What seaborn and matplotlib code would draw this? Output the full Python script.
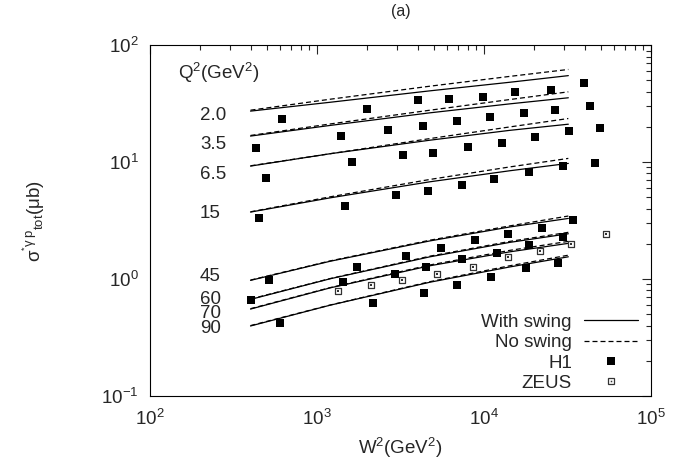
import matplotlib
matplotlib.use("Agg")
import numpy as np
import pandas as pd
import matplotlib.pyplot as plt
from matplotlib.lines import Line2D
import seaborn as sns

# Q^2 bins (GeV^2) labelled on the plot
q2_bins = ["2.0", "3.5", "6.5", "15", "45", "60", "70", "90"]

# model curves, read at these W^2 values (GeV^2)
w2_curve = [400, 1200, 4750, 14300, 32000]
swing_20 = [27.3, 32.5, 40.7, 48.2, 54.9]
swing_35 = [16.7, 20.6, 26.4, 31.5, 35.5]
swing_65 = [9.25, 11.8, 15.4, 18.7, 21.1]
swing_15 = [3.74, 4.95, 6.79, 8.44, 9.75]
swing_45 = [0.975, 1.42, 2.12, 2.79, 3.30]
swing_60 = [0.67, 1.006, 1.55, 2.06, 2.44]
swing_70 = [0.554, 0.841, 1.30, 1.71, 2.02]
swing_90 = [0.397, 0.598, 0.94, 1.27, 1.55]
noswing_20 = [27.8, 34.5, 44.6, 54.1, 62.0]
noswing_35 = [16.9, 21.2, 27.8, 34.3, 39.9]
noswing_65 = [9.3, 11.8, 15.9, 20.0, 23.6]
noswing_15 = [3.76, 5.05, 7.11, 9.10, 10.76]
noswing_45 = [0.98, 1.43, 2.15, 2.85, 3.46]
noswing_60 = [0.675, 1.01, 1.57, 2.10, 2.51]
noswing_70 = [0.558, 0.845, 1.32, 1.76, 2.10]
noswing_90 = [0.40, 0.60, 0.95, 1.30, 1.60]

# H1 data
h1_w2_20 = [620, 2000, 4000, 6200, 9900, 15400, 25100, 39900]
h1_sig_20 = [23.2, 28.2, 33.7, 34.4, 36.0, 39.7, 41.0, 47.1]
h1_w2_35 = [433, 1390, 2670, 4330, 6920, 10900, 17400, 26700, 43300]
h1_sig_35 = [13.1, 16.6, 19.0, 20.2, 22.4, 24.1, 26.1, 27.8, 30.1]
h1_w2_65 = [495, 1630, 3260, 4970, 8050, 12900, 20300, 32400, 49700]
h1_sig_65 = [7.26, 9.94, 11.4, 11.9, 13.6, 14.7, 16.3, 18.4, 19.4]
h1_w2_15 = [449, 1470, 2970, 4620, 7410, 11500, 18600, 29900, 46200]
h1_sig_15 = [3.30, 4.21, 5.22, 5.62, 6.36, 7.11, 8.17, 9.18, 9.75]
h1_w2_45 = [518, 1740, 3425, 5550, 8870, 14000, 22400, 34300]
h1_sig_45 = [0.98, 1.28, 1.59, 1.83, 2.15, 2.43, 2.73, 3.19]
h1_w2_60 = [404, 1440, 2930, 4510, 7410, 11900, 18600, 29900]
h1_sig_60 = [0.658, 0.937, 1.10, 1.26, 1.48, 1.66, 1.95, 2.30]
h1_w2_90 = [603, 2170, 4390, 6860, 11000, 17800, 27900]
h1_sig_90 = [0.421, 0.620, 0.755, 0.889, 1.04, 1.24, 1.36]

# ZEUS data (Q^2 = 70)
zeus_w2 = [1330, 2110, 3240, 5250, 8630, 13900, 21600, 33000, 53500]
zeus_sig = [0.785, 0.884, 0.975, 1.11, 1.28, 1.55, 1.73, 1.99, 2.41]

# label heights in axes fraction
label_y = [0.800, 0.717, 0.632, 0.519, 0.340, 0.276, 0.236, 0.193]

swing_all = [swing_20, swing_35, swing_65, swing_15, swing_45, swing_60, swing_70, swing_90]
noswing_all = [noswing_20, noswing_35, noswing_65, noswing_15, noswing_45, noswing_60, noswing_70, noswing_90]
rows = []
for q, s, n in zip(q2_bins, swing_all, noswing_all):
    for w, v in zip(w2_curve, s):
        rows.append((w, v, q + " swing", "With swing"))
    for w, v in zip(w2_curve, n):
        rows.append((w, v, q + " noswing", "No swing"))
curves = pd.DataFrame(rows, columns=["W2", "sigma", "curve", "model"])

h1 = pd.DataFrame({
    "W2": h1_w2_20 + h1_w2_35 + h1_w2_65 + h1_w2_15 + h1_w2_45 + h1_w2_60 + h1_w2_90,
    "sigma": h1_sig_20 + h1_sig_35 + h1_sig_65 + h1_sig_15 + h1_sig_45 + h1_sig_60 + h1_sig_90,
})
zeus = pd.DataFrame({"W2": zeus_w2, "sigma": zeus_sig})

sns.set_style("white")
plt.rcParams["font.family"] = ["Liberation Sans", "DejaVu Sans"]
plt.rcParams["mathtext.fontset"] = "custom"
plt.rcParams["mathtext.rm"] = "Liberation Sans"
plt.rcParams["mathtext.it"] = "Liberation Sans:italic"
plt.rcParams["mathtext.bf"] = "Liberation Sans:bold"
plt.rcParams["mathtext.sf"] = "Liberation Sans"
plt.rcParams["mathtext.default"] = "regular"

fs = 13.5
fig = plt.figure(figsize=(6.83, 4.61), dpi=100)
ax = fig.add_axes([0.2196, 0.141, 0.7335, 0.761])
ax.set_xscale("log")
ax.set_yscale("log")

sns.lineplot(data=curves, x="W2", y="sigma", units="curve", style="model",
             estimator=None, dashes={"With swing": "", "No swing": (4, 2.4)},
             color="black", lw=0.9, legend=False, ax=ax)
sns.scatterplot(data=h1, x="W2", y="sigma", marker="s", s=37, color="black",
                linewidth=0, legend=False, ax=ax, zorder=3)
sns.scatterplot(data=zeus, x="W2", y="sigma", marker="s", s=22, color="white",
                edgecolor="#333333", linewidth=0.9, legend=False, ax=ax, zorder=3)
sns.scatterplot(data=zeus, x="W2", y="sigma", marker="s", s=1.2, color="#333333",
                linewidth=0, legend=False, ax=ax, zorder=4)

ax.set_xlim(1e2, 1e5)
ax.set_ylim(1e-1, 1e2)

ax.text(0.056, 0.920, r"Q$^2$(GeV$^2$)", transform=ax.transAxes,
        ha="left", va="center", fontsize=fs)
for lab, yy in zip(q2_bins, label_y):
    ax.text(0.0998, yy, lab, transform=ax.transAxes, ha="left", va="center", fontsize=fs)

ax.set_xlabel(r"W$^2$(GeV$^2$)", fontsize=fs, labelpad=5)
ax.set_ylabel(r"$\sigma^{{}^{*}\gamma\,p}{}_{tot}(\mu b)$", fontsize=fs)
ax.yaxis.set_label_coords(-0.205, 0.5)
ax.set_title("(a)", fontsize=11.5, pad=21)

ax.tick_params(which="both", direction="in", top=True, right=True,
               width=0.8, labelsize=fs)
ax.tick_params(which="major", length=6.5)
ax.tick_params(which="minor", length=3.4)
ax.tick_params(axis="x", pad=9)
ax.tick_params(axis="y", pad=8)
for sp in ax.spines.values():
    sp.set_linewidth(0.8)
    sp.set_color("black")

handles = [
    Line2D([], [], color="black", lw=0.9),
    Line2D([], [], color="black", lw=0.9, dashes=(4, 2.4)),
    Line2D([], [], color="black", marker="s", ms=6.1, ls="none", mew=0),
    (Line2D([], [], color="white", marker="s", ms=4.7, ls="none", mec="#333333", mew=0.9),
     Line2D([], [], color="#333333", marker="s", ms=1.1, ls="none", mew=0)),
]
ax.legend(handles, ["With swing", "No swing", "H1", "ZEUS"], loc="lower right",
          bbox_to_anchor=(0.974, 0.0114), markerfirst=False, alignment="right",
          frameon=False, fontsize=fs, handlelength=2.88, handletextpad=0.64,
          labelspacing=0.17, borderpad=0, borderaxespad=0)

fig.savefig("out.png", dpi=100)
